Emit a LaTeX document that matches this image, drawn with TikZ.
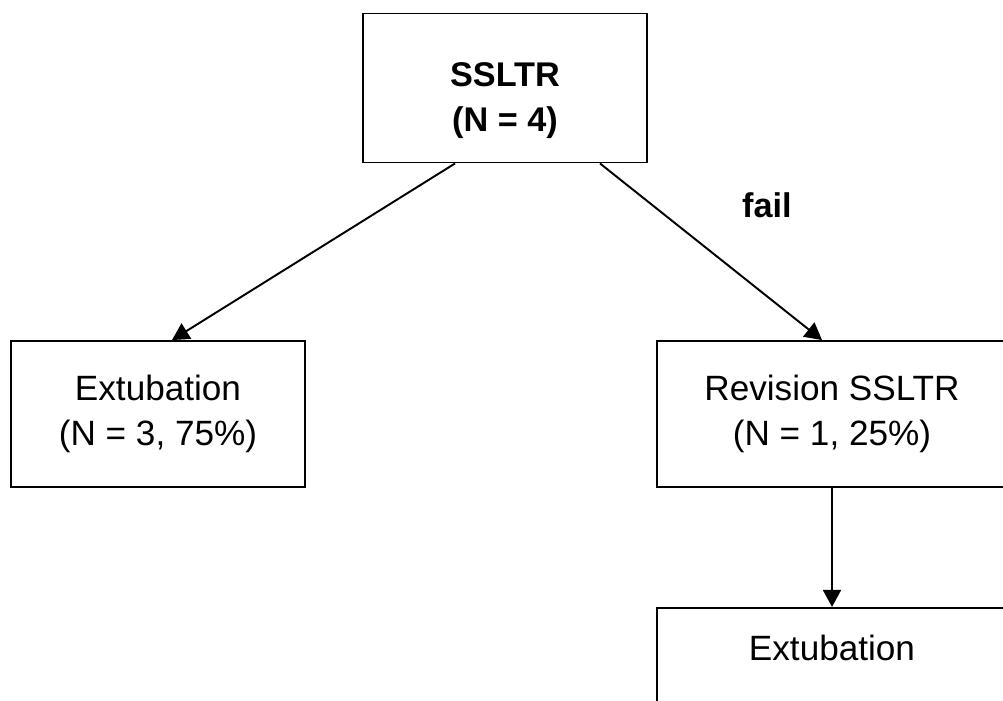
\documentclass[tikz,border=0pt]{standalone}
\usepackage{fontspec}
\setmainfont{Liberation Sans}
\usetikzlibrary{arrows.meta, positioning, calc}
\tikzset{
    flowbox/.style={rectangle, draw=black, line width=1.1pt, align=center, inner sep=0pt, font=\fontsize{20}{25.6}\selectfont},
    flowtop/.style={rectangle, draw=black, line width=1.1pt},
    flowtoptext/.style={align=center, inner sep=0pt, font=\fontsize{19.5}{25.6}\selectfont\bfseries},
    flowarrow/.style={-{Triangle[length=3.4mm,width=3.6mm]}, line width=1.1pt, draw=black},
    flowlabel/.style={font=\fontsize{19.5}{24}\selectfont\bfseries, inner sep=0pt}
}

\begin{document}
\begin{tikzpicture}[x=0.02cm, y=-0.02cm]
    \useasboundingbox (0,0) rectangle (1003,700);
    \clip (0,0) rectangle (1003,700);

    \node[flowtop, minimum width=5.68cm, minimum height=2.98cm] (ssltr) at (505,88) {};
    \node[flowtoptext] (ssltrtxt) at (505,101) {SSLTR\\(N = 4)};
    \node[flowbox, minimum width=5.88cm, minimum height=2.92cm] (extub) at (158,414) {Extubation\\(N = 3, 75\%)};
    \node[flowbox, minimum width=7cm, minimum height=2.92cm] (revis) at (832,414) {Revision SSLTR\\(N = 1, 25\%)};
    \node[flowbox, minimum width=7cm, text height=1.06cm, text depth=1.86cm, below=2.38cm of revis] (extub2) {Extubation};

    % Branches from the first procedure
    \draw[flowarrow] ([xshift=-1cm]ssltr.south) -- ([xshift=0.28cm]extub.north);
    \draw[flowarrow] ([xshift=1.9cm]ssltr.south) -- node[flowlabel, xshift=1.12cm, yshift=0.94cm] (faillbl) {fail} ([xshift=-0.2cm]revis.north);

    % After revision
    \draw[flowarrow] (revis) -- (extub2);
\end{tikzpicture}
\end{document}
